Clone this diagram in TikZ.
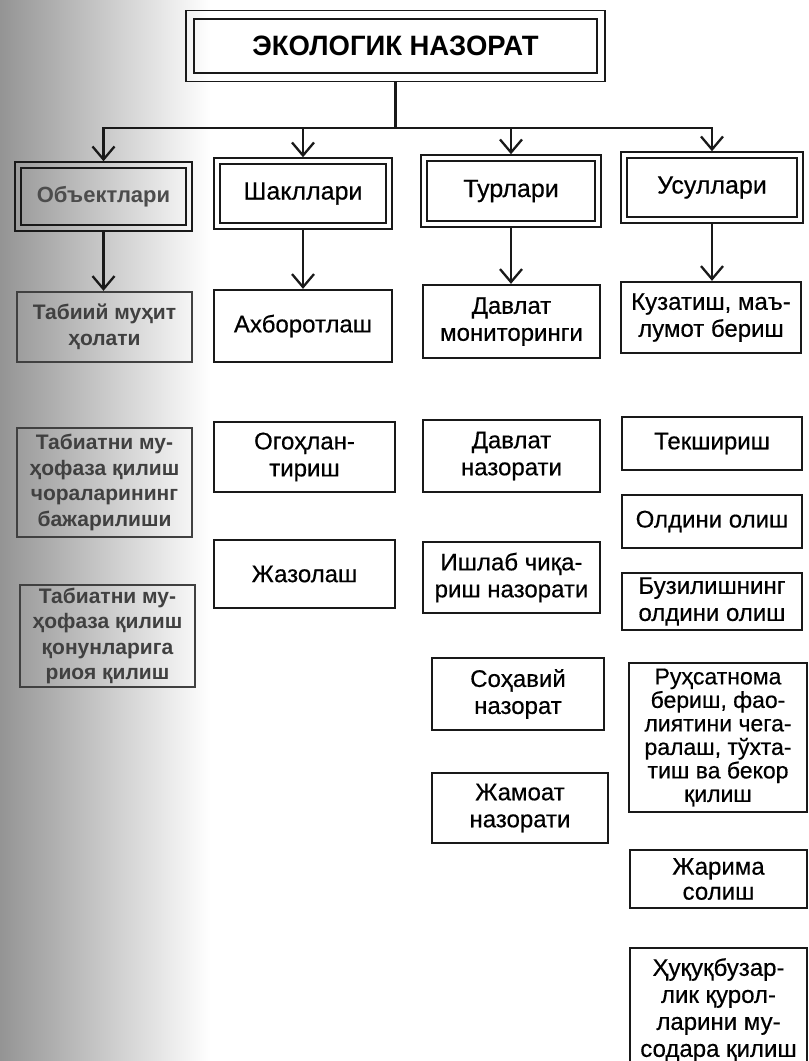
\documentclass[tikz,border=0pt]{standalone}
\usepackage{fontspec}
\setmainfont{Liberation Sans}
\newfontfamily\boxfont[FakeBold=0.45, FakeStretch=1.0]{Liberation Sans}
\newfontfamily\titlefont[FakeStretch=0.98]{Liberation Sans}
\usetikzlibrary{arrows.meta,calc}
\begin{document}
\begin{tikzpicture}[x=1pt,y=-1pt,
  box/.style={draw=black!90, line width=2.3pt, inner sep=0pt, align=center,
    font=\boxfont\fontsize{24}{27}\selectfont},
  lbox/.style={box, draw=black!75, text=black!75, font=\bfseries\fontsize{21}{25.5}\selectfont},
  dbox/.style={draw=black!90, line width=1.5pt, inner sep=0pt, align=center,
    font=\boxfont\fontsize{25}{27}\selectfont},
  innerline/.style={draw=black!90, line width=2pt},
  conn/.style={draw=black!90, line width=2.3pt},
  arr/.style={conn, -{Straight Barb[length=13pt,width=22pt]}}]
\useasboundingbox (0,0) rectangle (809,1061);
\fill[white] (0,0) rectangle (809,1061);
\shade[left color=black!42, right color=white] (0,0) rectangle (210,1061);

% top
\node[dbox, minimum width=419pt, minimum height=71pt,
  font=\titlefont\bfseries\fontsize{28}{30}\selectfont] (top) at (395.5,46) {ЭКОЛОГИК НАЗОРАТ};

% row 2
\node[dbox, minimum width=177pt, minimum height=69pt, text=black!70, font=\bfseries\fontsize{22}{25}\selectfont] (obj) at (103.5,196.5) {Объектлари};
\node[dbox, minimum width=178pt, minimum height=71pt] (shak) at (303,193.5) {Шакллари};
\node[dbox, minimum width=180pt, minimum height=72pt] (tur) at (511,191) {Турлари};
\node[dbox, minimum width=182pt, minimum height=71pt] (usul) at (712,187.5) {Усуллари};

\foreach \n/\g in {top/9pt,obj/7pt,shak/7pt,tur/7pt,usul/7pt}
  \draw[innerline] ([xshift=\g,yshift=-\g]\n.north west) rectangle ([xshift=-\g,yshift=\g]\n.south east);

% row 3
\node[lbox, minimum width=175pt, minimum height=70pt] (tab1) at (104.5,327) {Табиий муҳит\\ҳолати};
\node[box, minimum width=178pt, minimum height=72pt] (axb) at (303,326) {Ахборотлаш};
\node[box, minimum width=177pt, minimum height=73pt] (dmon) at (511.5,321.5) {Давлат\\мониторинги};
\node[box, minimum width=180pt, minimum height=71pt] (kuz) at (711,317.5) {Кузатиш, маъ-\\лумот бериш};

% lower rows
\node[lbox, minimum width=175pt, minimum height=109pt] (tab2) at (104.5,482.5) {Табиатни му-\\ҳофаза қилиш\\чораларининг\\бажарилиши};
\node[lbox, minimum width=175pt, minimum height=102pt] (tab3) at (107.5,636) {Табиатни му-\\ҳофаза қилиш\\қонунларига\\риоя қилиш};

\node[box, minimum width=181pt, minimum height=70pt] (ogoh) at (304.5,457) {Огоҳлан-\\тириш};
\node[box, minimum width=181pt, minimum height=68pt] (jazo) at (304.5,574) {Жазолаш};

\node[box, minimum width=177pt, minimum height=72pt] (dnaz) at (511.5,456) {Давлат\\назорати};
\node[box, minimum width=177pt, minimum height=71pt] (ishlab) at (511.5,577.5) {Ишлаб чиқа-\\риш назорати};
\node[box, minimum width=172pt, minimum height=72pt] (soh) at (518,694) {Соҳавий\\назорат};
\node[box, minimum width=176pt, minimum height=70pt] (jam) at (520,808) {Жамоат\\назорати};

\node[box, minimum width=180pt, minimum height=53pt] (tek) at (712,443.5) {Текшириш};
\node[box, minimum width=180pt, minimum height=53pt] (old) at (712,521.5) {Олдини олиш};
\node[box, minimum width=180pt, minimum height=57pt] (buz) at (712,601.5) {Бузилишнинг\\олдини олиш};
\node[box, minimum width=178pt, minimum height=149pt, font=\boxfont\fontsize{23}{23.5}\selectfont] (ruh) at (718,737.5) {Руҳсатнома\\бериш, фао-\\лиятини чега-\\ралаш, тўхта-\\тиш ва бекор\\қилиш};
\node[box, minimum width=177pt, minimum height=58pt, font=\boxfont\fontsize{24}{25}\selectfont] (jar) at (718.5,879) {Жарима\\солиш};
\node[box, minimum width=177pt, minimum height=124pt] (huq) at (718.5,1010) {Ҳуқуқбузар-\\лик қурол-\\ларини му-\\содара қилиш};

% connectors
\coordinate (j) at (395.5,128);
\draw[conn] (top.south) -- (j);
\draw[arr] (j) -| (obj.north);
\draw[arr] (j) -| (shak.north);
\draw[arr] (j) -| (tur.north);
\draw[arr] (j) -| (usul.north);

\draw[arr] (obj.south) -- (obj.south |- tab1.north);
\draw[arr] (shak.south) -- (shak.south |- axb.north);
\draw[arr] (tur.south) -- (tur.south |- dmon.north);
\draw[arr] (usul.south) -- (usul.south |- kuz.north);
\end{tikzpicture}
\end{document}
